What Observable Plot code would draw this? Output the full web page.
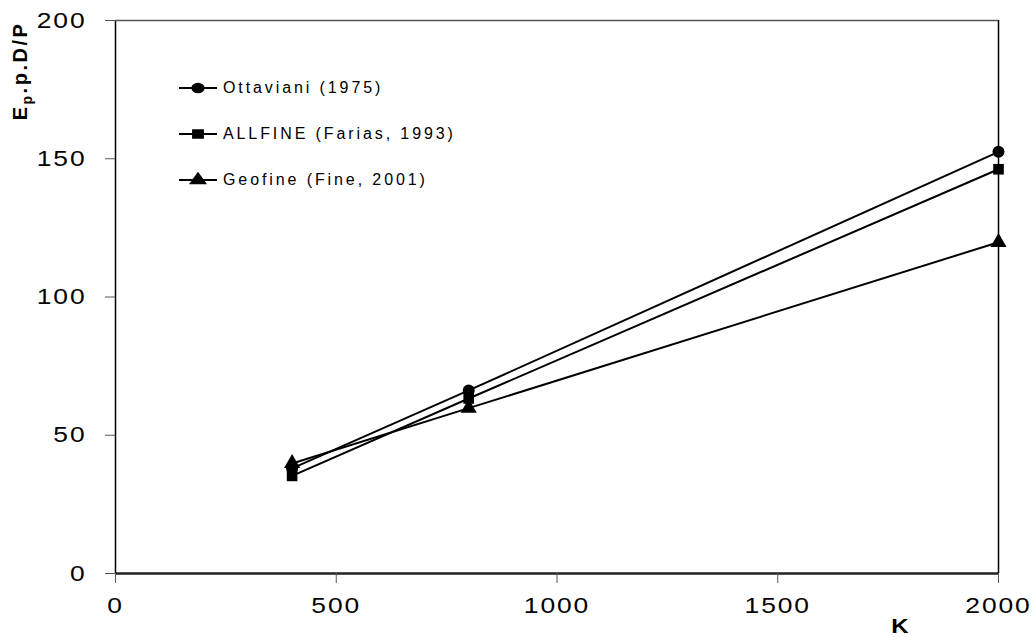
<!DOCTYPE html>
<html>
<head>
<meta charset="utf-8">
<script src="https://cdn.jsdelivr.net/npm/d3@7"></script>
<script src="https://cdn.jsdelivr.net/npm/@observablehq/plot@0.6"></script>
<style>
  html, body { margin: 0; padding: 0; background: #fff; }
  #wrap { position: relative; width: 1031px; height: 637px; font-family: "Liberation Sans", Arial, sans-serif; }
  #legend { position: absolute; left: 178px; top: 76px; }
  .lg { display: flex; align-items: center; height: 23px; margin-bottom: 23px; font-size: 16px; letter-spacing: 2.9px; color: #000; }
  .lg svg { margin-right: 5px; }
</style>
</head>
<body>
<div id="wrap">
  <div id="chart"></div>
  <div id="legend"></div>
</div>
<script>
const kValues = [400, 800, 2000];
const ottaviani = [38, 66.2, 152.5];
const allfine = [35.3, 63.3, 146.2];
const geofine = [39.8, 59.8, 119.8];
const seriesNames = ["Ottaviani (1975)", "ALLFINE (Farias, 1993)", "Geofine (Fine, 2001)"];
const seriesSymbols = ["circle", "square", "triangle"];
const xTicks = [0, 500, 1000, 1500, 2000];
const yTicks = [0, 50, 100, 150, 200];

const rows = [];
[ottaviani, allfine, geofine].forEach((vals, i) => {
  vals.forEach((v, j) => rows.push({series: seriesNames[i], symbol: seriesSymbols[i], k: kValues[j], v}));
});

const chart = Plot.plot({
  width: 1031,
  height: 637,
  marginLeft: 115,
  marginRight: 33,
  marginTop: 20,
  marginBottom: 64,
  style: {fontFamily: "Liberation Sans, Arial, sans-serif", fontSize: "22px", color: "#000", background: "#fff"},
  x: {domain: [0, 2000], label: null},
  y: {domain: [0, 200], label: null},
  marks: [
    Plot.ruleX([0], {stroke: "#000", strokeWidth: 1.5}),
    Plot.ruleX([2000], {stroke: "#000", strokeWidth: 1.5}),
    Plot.ruleY([200], {stroke: "#555", strokeWidth: 1.5}),
    Plot.line(rows, {x: "k", y: "v", z: "series", stroke: "#000", strokeWidth: 2}),
    Plot.dot(rows, {x: "k", y: "v", symbol: "symbol", fill: "#000", stroke: "none", r: 6}),
    Plot.ruleY([0], {stroke: "#222", strokeWidth: 2.5}),
    Plot.axisX({ticks: xTicks, tickFormat: d => String(d), tickSize: 10, tickPadding: 14, stroke: "#555", fontSize: 22}),
    Plot.axisY({ticks: yTicks, tickFormat: d => String(d), tickSize: 10, tickPadding: 19, stroke: "#555", fontSize: 22})
  ]
});
document.getElementById("chart").appendChild(chart);

const svg = d3.select(chart);
svg.selectAll("[aria-label^='x-axis tick label'] text, [aria-label^='y-axis tick label'] text")
  .style("letter-spacing", "1.6px")
  .attr("transform", function() { return (this.getAttribute("transform") || "") + " scale(1.2,1)"; });

// x-axis label "K"
svg.append("text")
  .attr("transform", "translate(900,633) scale(1.2,1)")
  .attr("text-anchor", "middle")
  .attr("font-weight", "bold").attr("font-size", 20)
  .attr("font-family", "Liberation Sans, Arial, sans-serif")
  .text("K");

// y-axis label E_p.p.D/P
const yl = svg.append("text")
  .attr("transform", "translate(27,71) rotate(-90)")
  .attr("text-anchor", "middle")
  .attr("font-weight", "bold").attr("font-size", 20)
  .attr("letter-spacing", "2.5px")
  .attr("font-family", "Liberation Sans, Arial, sans-serif");
yl.append("tspan").text("E");
yl.append("tspan").attr("font-size", 14).attr("dy", 5).text("p");
yl.append("tspan").attr("dy", -5).text(".p.D/P");

// legend
const legend = d3.select("#legend");
seriesNames.forEach((name, i) => {
  const row = legend.append("div").attr("class", "lg");
  const s = row.append("svg").attr("width", 40).attr("height", 20);
  s.append("line").attr("x1", 1).attr("x2", 39).attr("y1", 10).attr("y2", 10).attr("stroke", "#000").attr("stroke-width", 2);
  s.append("path")
    .attr("transform", "translate(20,10) scale(1.25,1)")
    .attr("d", d3.symbol(seriesSymbols[i] === "circle" ? d3.symbolCircle : seriesSymbols[i] === "square" ? d3.symbolSquare : d3.symbolTriangle, 90)())
    .attr("fill", "#000");
  row.append("span").text(name);
});
</script>
</body>
</html>
